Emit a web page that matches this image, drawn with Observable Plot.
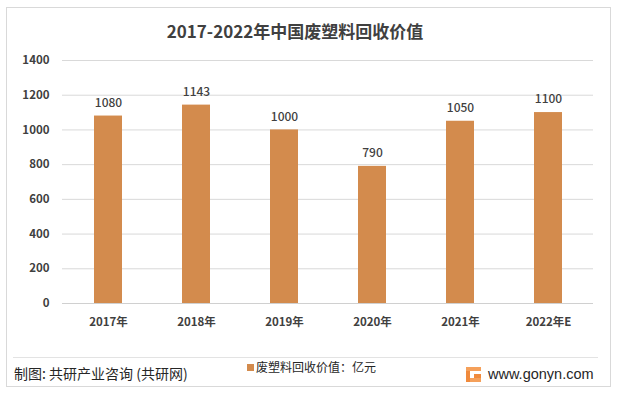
<!DOCTYPE html>
<html>
<head>
<meta charset="utf-8">
<script src="https://cdn.jsdelivr.net/npm/d3@7"></script>
<script src="https://cdn.jsdelivr.net/npm/@observablehq/plot@0.6"></script>
<style>
  html, body { margin: 0; padding: 0; background: #fff; }
  body { width: 617px; height: 393px; position: relative; overflow: hidden;
         font-family: "Noto Sans CJK SC", "Noto Sans", sans-serif; }
  #frame { position: absolute; left: 6px; top: 7px; width: 605px; height: 380px;
           border: 1px solid #d9d9d9; box-sizing: border-box; }
  #title { position: absolute; left: 0; width: 590px; top: 19px; text-align: center;
           font-size: 17px; font-weight: bold; color: #404040; line-height: 24px; }
  #chart { position: absolute; left: 0; top: 0; }
  #sep { position: absolute; left: 13px; top: 357px; width: 585px; height: 1px; background: #e3e3e3; }
  #credit { position: absolute; left: 14px; top: 364px; font-size: 14px; color: #262626; line-height: 18px; }
  #legend { position: absolute; left: 247px; top: 358px; font-size: 12px; color: #262626; line-height: 17px; }
  #legend span.sw { display: inline-block; width: 7px; height: 7px; background: #D38B4D; margin-right: 2px; vertical-align: 1px; }
  #site { position: absolute; left: 466px; top: 365px; font-size: 14.5px; color: #262626; line-height: 18px; font-family: "Liberation Sans", Arial, sans-serif; }
  #site svg { vertical-align: -3px; margin-right: 7px; }
</style>
</head>
<body>
<div id="frame"></div>
<div id="chart"></div>
<div id="title">2017-2022年中国废塑料回收价值</div>
<div id="sep"></div>
<div id="credit">制图: 共研产业咨询 (共研网)</div>
<div id="legend"><span class="sw"></span>废塑料回收价值：亿元</div>
<div id="site"><svg width="15" height="15" viewBox="0 0 15 15"><rect x="0" y="0" width="15" height="4" fill="#F5A05A"/><rect x="0" y="4" width="4" height="11" fill="#F08A3C"/><rect x="4" y="11" width="11" height="4" fill="#F5A05A"/><rect x="8" y="7" width="7" height="4" fill="#F08A3C"/></svg>www.gonyn.com</div>
<script>
const years = ["2017年", "2018年", "2019年", "2020年", "2021年", "2022年E"];
const values = [1080, 1143, 1000, 790, 1050, 1100];
const yTicks = [0, 200, 400, 600, 800, 1000, 1200, 1400];

const data = years.map((y, i) => ({year: y, value: values[i]}));

const chart = Plot.plot({
  width: 617,
  height: 393,
  marginLeft: 62,
  marginRight: 24,
  marginTop: 60,
  marginBottom: 90,
  style: {background: "transparent", fontFamily: "'Noto Sans CJK SC', 'Noto Sans', sans-serif", overflow: "visible"},
  x: {domain: years, paddingInner: 0.684, paddingOuter: 0.342, label: null},
  y: {domain: [0, 1400], label: null},
  marks: [
    Plot.gridY(yTicks, {stroke: "#d9d9d9", strokeOpacity: 1}),
    Plot.barY(data, {x: "year", y: "value", fill: "#D38B4D"}),
    Plot.ruleY([0], {stroke: "#d0d0d0", strokeWidth: 1.2}),
    Plot.text(data, {x: "year", y: "value", text: d => String(d.value), dy: -13,
      fill: "#404040", fontSize: 12, fontWeight: 500}),
    Plot.axisY(yTicks, {tickSize: 0, tickPadding: 13, fontSize: 11.5, fill: "#404040", fontWeight: 600, tickFormat: d => String(d)}),
    Plot.axisX({tickSize: 0, tickPadding: 14, fontSize: 11.5, fill: "#404040", fontWeight: "bold"})
  ]
});
document.getElementById("chart").appendChild(chart);
</script>
</body>
</html>
